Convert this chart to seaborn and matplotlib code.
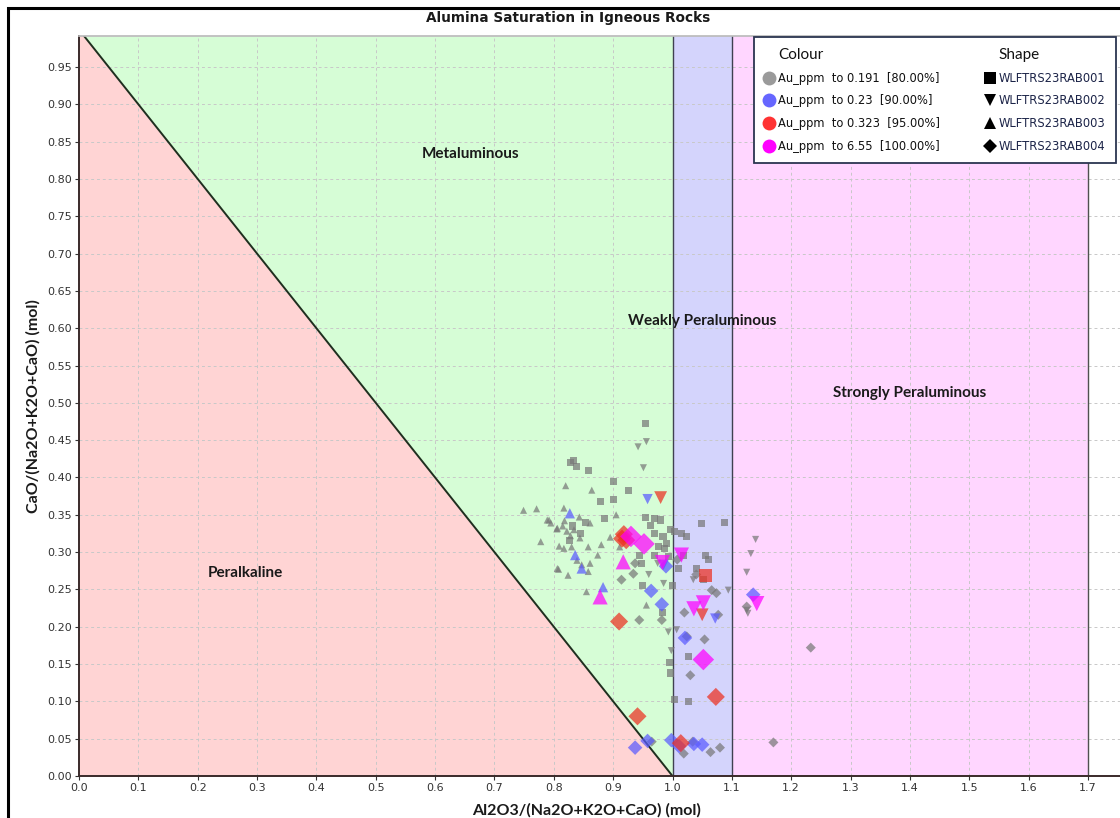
# Alumina saturation (Shand) plot for the WLFTRS23 RAB holes
import matplotlib
matplotlib.use("Agg")
import numpy as np
import pandas as pd
import matplotlib.pyplot as plt
from matplotlib.lines import Line2D
from matplotlib.patches import Rectangle
import seaborn as sns

# ---- data -----------------------------------------------------------------
grade_labels = ["Au_ppm  to 0.191  [80.00%]", "Au_ppm  to 0.23  [90.00%]",
                "Au_ppm  to 0.323  [95.00%]", "Au_ppm  to 6.55  [100.00%]"]
hole_labels = ["WLFTRS23RAB001", "WLFTRS23RAB002", "WLFTRS23RAB003", "WLFTRS23RAB004"]

# grade class: 0 = to 0.191, 1 = to 0.23, 2 = to 0.323, 3 = to 6.55
rab001_x = [0.954, 0.833, 0.839, 0.828, 0.859, 0.901, 0.926, 0.878, 0.901, 0.885,
            0.955, 0.969, 0.980, 0.963, 0.970, 0.984, 0.990, 0.976, 0.987, 0.996,
            0.993, 0.945, 0.948, 0.970, 1.004, 1.015, 1.024, 1.049, 1.087, 1.056,
            1.018, 1.041, 1.010, 1.052, 0.983, 0.995, 0.996, 1.003, 1.027, 1.027,
            0.832, 0.845, 0.853, 0.826, 0.950, 1.000, 1.060, 1.056]
rab001_y = [0.472, 0.423, 0.415, 0.420, 0.409, 0.394, 0.382, 0.368, 0.370, 0.345,
            0.346, 0.345, 0.343, 0.336, 0.325, 0.321, 0.312, 0.307, 0.305, 0.330,
            0.294, 0.296, 0.285, 0.296, 0.327, 0.325, 0.321, 0.338, 0.340, 0.296,
            0.295, 0.278, 0.278, 0.263, 0.219, 0.152, 0.138, 0.102, 0.160, 0.100,
            0.335, 0.325, 0.340, 0.316, 0.255, 0.255, 0.290, 0.269]
rab001_g = [0] * 47 + [2]

rab002_x = [0.942, 0.956, 0.951, 1.094, 1.035, 0.985, 0.993, 1.007, 0.998, 1.140,
            1.132, 1.125, 1.125, 1.127, 0.960, 0.975,
            0.958, 1.072, 0.985,
            0.980, 1.050,
            0.983, 1.015, 1.036, 1.052, 1.142]
rab002_y = [0.441, 0.448, 0.413, 0.249, 0.263, 0.258, 0.193, 0.196, 0.168, 0.317,
            0.298, 0.273, 0.222, 0.218, 0.270, 0.285,
            0.371, 0.211, 0.283,
            0.373, 0.216,
            0.286, 0.296, 0.224, 0.232, 0.231]
rab002_g = [0] * 16 + [1] * 3 + [2] * 2 + [3] * 5

rab003_x = [0.749, 0.771, 0.789, 0.795, 0.805, 0.778, 0.806, 0.809, 0.820, 0.864,
            0.817, 0.792, 0.806, 0.843, 0.861, 0.815, 0.822, 0.828, 0.818, 0.834,
            0.844, 0.830, 0.817, 0.858, 0.874, 0.839, 0.847, 0.861, 0.858, 0.808,
            0.824, 0.855, 0.911, 0.895, 0.956, 0.880, 0.905,
            0.827, 0.836, 0.847, 0.883,
            0.917, 0.878]
rab003_y = [0.356, 0.358, 0.343, 0.339, 0.331, 0.314, 0.278, 0.308, 0.389, 0.383,
            0.359, 0.343, 0.332, 0.347, 0.339, 0.335, 0.328, 0.322, 0.342, 0.330,
            0.319, 0.307, 0.305, 0.307, 0.296, 0.289, 0.283, 0.285, 0.274, 0.277,
            0.269, 0.247, 0.307, 0.320, 0.229, 0.310, 0.350,
            0.352, 0.296, 0.278, 0.253,
            0.287, 0.240]
rab003_g = [0] * 37 + [1] * 4 + [3] * 2

rab004_x = [0.944, 0.982, 1.020, 1.054, 1.077, 1.030, 0.965, 1.034, 1.019, 1.064,
            1.080, 1.024, 0.914, 0.934, 1.066, 1.074, 0.937, 1.233, 1.170, 1.125,
            1.008, 1.040,
            0.989, 0.964, 0.982, 1.021, 0.958, 0.998, 1.011, 1.036, 1.050, 0.937,
            1.136,
            0.918, 0.922, 0.915, 0.910, 0.941, 1.073, 1.014,
            0.930, 0.952, 1.052]
rab004_y = [0.209, 0.209, 0.219, 0.183, 0.216, 0.135, 0.046, 0.046, 0.030, 0.032,
            0.038, 0.187, 0.263, 0.271, 0.249, 0.245, 0.285, 0.172, 0.045, 0.227,
            0.290, 0.270,
            0.281, 0.248, 0.230, 0.185, 0.047, 0.048, 0.040, 0.043, 0.042, 0.038,
            0.243,
            0.324, 0.316, 0.318, 0.207, 0.080, 0.106, 0.044,
            0.321, 0.311, 0.156]
rab004_g = [0] * 22 + [1] * 11 + [2] * 7 + [3] * 3

grade_colors = ["#787878", "#5a5aff", "#ec3020", "#ff00ff"]
legend_colors = ["#9a9a9a", "#6666ff", "#ff3333", "#ff00ff"]
grade_sizes = [26, 55, 85, 120]
hole_markers = ["s", "v", "^", "D"]


def build_frame():
    """Collect all holes into one long table"""
    parts = []
    for hole, xs, ys, gs in zip(hole_labels,
                                [rab001_x, rab002_x, rab003_x, rab004_x],
                                [rab001_y, rab002_y, rab003_y, rab004_y],
                                [rab001_g, rab002_g, rab003_g, rab004_g]):
        parts.append(pd.DataFrame({"x": xs, "y": ys, "g": gs, "hole": hole}))
    df = pd.concat(parts, ignore_index=True)
    df["grade"] = [grade_labels[i] for i in df["g"]]
    # higher grades drawn on top
    return df.sort_values("g", kind="stable")


def draw_fields(ax, xmax, ymax):
    """Shade the Shand classification fields"""
    xs = np.linspace(0, 1, 50)
    ax.fill_between(xs, 0, 1 - xs, color="#ffd4d4", lw=0, zorder=0.2)
    ax.fill_between(xs, 1 - xs, ymax, color="#d6fdd6", lw=0, zorder=0.2)
    ax.axvspan(1.0, 1.1, color="#d4d4fc", lw=0, zorder=0.2)
    ax.axvspan(1.1, 1.7, color="#ffd6ff", lw=0, zorder=0.2)
    ax.plot([0, 1], [1, 0], color="#1f2f1f", lw=1.4, zorder=0.8)
    for xv, c in [(1.0, "#404050"), (1.1, "#404050"), (1.7, "#505050")]:
        ax.plot([xv, xv], [0, ymax], color=c, lw=1.0, zorder=0.8)

    lab = dict(fontfamily="Lato", fontweight="bold", fontsize=11,
               color="#1a1a1a", ha="center", va="center", zorder=3)
    ax.text(0.66, 0.833, "Metaluminous", **lab)
    ax.text(1.05, 0.610, "Weakly Peraluminous", **lab)
    ax.text(0.28, 0.272, "Peralkaline", **lab)
    ax.text(1.40, 0.513, "Strongly Peraluminous", **lab)


def add_legend(ax):
    """Two-column legend: colour by grade, shape by hole"""
    blank = Line2D([], [], ls="none", marker=None)
    handles = [blank]
    labels = ["Colour"]
    for c, lbl in zip(legend_colors, grade_labels):
        handles.append(Line2D([], [], ls="none", marker="o", ms=10, color=c,
                              markeredgewidth=0))
        labels.append(lbl)
    handles.append(blank)
    labels.append("Shape")
    for m, lbl in zip(hole_markers, hole_labels):
        handles.append(Line2D([], [], ls="none", marker=m, ms=9 if m != "D" else 7,
                              color="black", markeredgewidth=0))
        labels.append(lbl)

    leg = ax.legend(handles, labels, ncol=2, loc="upper left",
                    bbox_to_anchor=(0.648, 0.998), frameon=True, fancybox=False,
                    framealpha=1, edgecolor="#2b3550", fontsize=8.3,
                    handlelength=0.9, handletextpad=0.3, columnspacing=3.9,
                    labelspacing=0.85, borderpad=0.9, borderaxespad=0)
    leg.get_frame().set_linewidth(1.3)
    leg.set_zorder(5)
    texts = leg.get_texts()
    for t in texts[:5]:
        t.set_color("#111111")
    for t in texts[5:]:
        t.set_color("#1c2448")
    for i in (0, 5):
        texts[i].set_fontsize(11)
        texts[i].set_fontfamily("Lato")
        texts[i].set_color("#111111")
    return leg


def main():
    sns.set_theme(style="white")
    plt.rcParams["font.family"] = ["DejaVu Sans"]

    fig = plt.figure(figsize=(11.2, 8.18), dpi=100)
    ax = fig.add_axes([79 / 1120, 1 - 776 / 818, 1 - 79 / 1120, (776 - 36) / 818])

    xmax, ymax = 1.754, 0.9915
    draw_fields(ax, xmax, ymax)

    df = build_frame()
    sns.scatterplot(data=df, x="x", y="y", hue="grade", style="hole", size="grade",
                    hue_order=grade_labels, style_order=hole_labels,
                    size_order=grade_labels,
                    palette=dict(zip(grade_labels, grade_colors)),
                    markers=dict(zip(hole_labels, hole_markers)),
                    sizes=dict(zip(grade_labels, grade_sizes)),
                    alpha=0.72, linewidth=0, legend=False, ax=ax, zorder=2)

    ax.set_xlim(0, xmax)
    ax.set_ylim(0, ymax)
    ax.set_xticks(np.arange(0, 1.71, 0.1))
    ax.set_xticklabels([f"{v:.1f}" for v in np.arange(0, 1.71, 0.1)])
    ax.set_yticks(np.arange(0, 0.951, 0.05))
    ax.set_yticklabels([f"{v:.2f}" for v in np.arange(0, 0.951, 0.05)])
    ax.tick_params(axis="both", labelsize=8, colors="#333333", length=3,
                   width=0.8, pad=2)
    ax.tick_params(axis="both", bottom=True, left=True)

    ax.set_axisbelow(True)
    ax.grid(True, ls=(0, (3, 3)), color="#c8c8c8", lw=0.7)

    for s in ("left", "bottom"):
        ax.spines[s].set_color("#3a2a2a")
        ax.spines[s].set_linewidth(1.4)
    ax.spines["top"].set_color("#bbbbbb")
    ax.spines["right"].set_visible(False)

    lab = dict(fontfamily="Lato", fontweight="bold", fontsize=11.5, color="#1a1a1a")
    ax.set_xlabel("Al2O3/(Na2O+K2O+CaO) (mol)", **lab)
    ax.set_ylabel("CaO/(Na2O+K2O+CaO) (mol)", **lab)
    ax.xaxis.set_label_coords((587 - 79) / 1041, -0.037)
    ax.yaxis.set_label_coords(-0.037, 0.5)

    fig.text(568 / 1120, 1 - 18 / 818, "Alumina Saturation in Igneous Rocks",
             ha="center", va="center", fontsize=9.8, fontweight="bold",
             color="#1a1a1a")

    add_legend(ax)

    # outer frame of the exported chart window
    fig.patches.append(Rectangle((8 / 1120, -0.05), 1.2, 1.05 - 8 / 818,
                                 transform=fig.transFigure, fill=False,
                                 edgecolor="black", lw=2.2, clip_on=False))

    fig.savefig("out.png", dpi=100)


if __name__ == "__main__":
    main()
